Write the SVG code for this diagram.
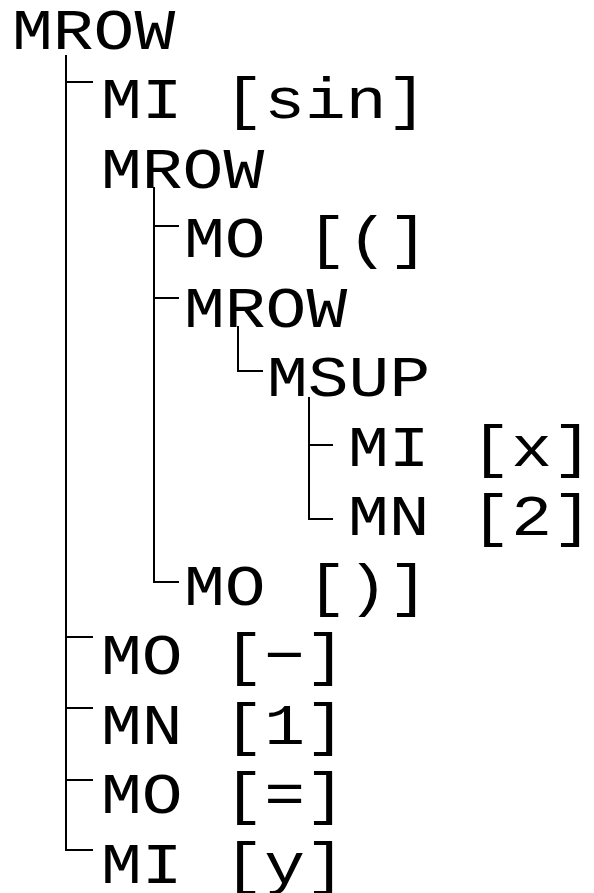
<svg xmlns="http://www.w3.org/2000/svg" width="594" height="893" viewBox="0 0 594 893">
<style>
text{font-family:"Liberation Mono","DejaVu Sans Mono",monospace;font-size:68px;fill:#000}
.c{fill:none;stroke:#000;stroke-width:2}
</style>
<rect width="594" height="893" fill="#fff"/>
<g id="connectors">
<path class="c" d="M66 55V850H93M66 82H93M66 637H93M66 708H93M66 780H93"/>
<path class="c" d="M154 187V582H179M154 226H179M154 298H179"/>
<path class="c" d="M238 326V371H263"/>
<path class="c" d="M309 397V519H333M309 445H333"/>
</g>
<g id="n1"><text transform="translate(12,49) scale(1,0.85)">MROW</text></g>
<g id="n2"><text transform="translate(101,118) scale(1,0.85)">MI [sin]</text></g>
<g id="n3"><text transform="translate(101,188) scale(1,0.85)">MROW</text></g>
<g id="n4"><text transform="translate(184,257) scale(1,0.85)">MO [(]</text></g>
<g id="n5"><text transform="translate(184,327) scale(1,0.85)">MROW</text></g>
<g id="n6"><text transform="translate(267,396) scale(1,0.85)">MSUP</text></g>
<g id="n7"><text transform="translate(348,466) scale(1,0.85)">MI [x]</text></g>
<g id="n8"><text transform="translate(348,535) scale(1,0.85)">MN [2]</text></g>
<g id="n9"><text transform="translate(184,605) scale(1,0.85)">MO [)]</text></g>
<g id="n10"><text transform="translate(101,674) scale(1,0.85)">MO [−]</text></g>
<g id="n11"><text transform="translate(101,744) scale(1,0.85)">MN [1]</text></g>
<g id="n12"><text transform="translate(101,813) scale(1,0.85)">MO [=]</text></g>
<g id="n13"><text transform="translate(101,883) scale(1,0.85)">MI [y]</text></g>
</svg>
